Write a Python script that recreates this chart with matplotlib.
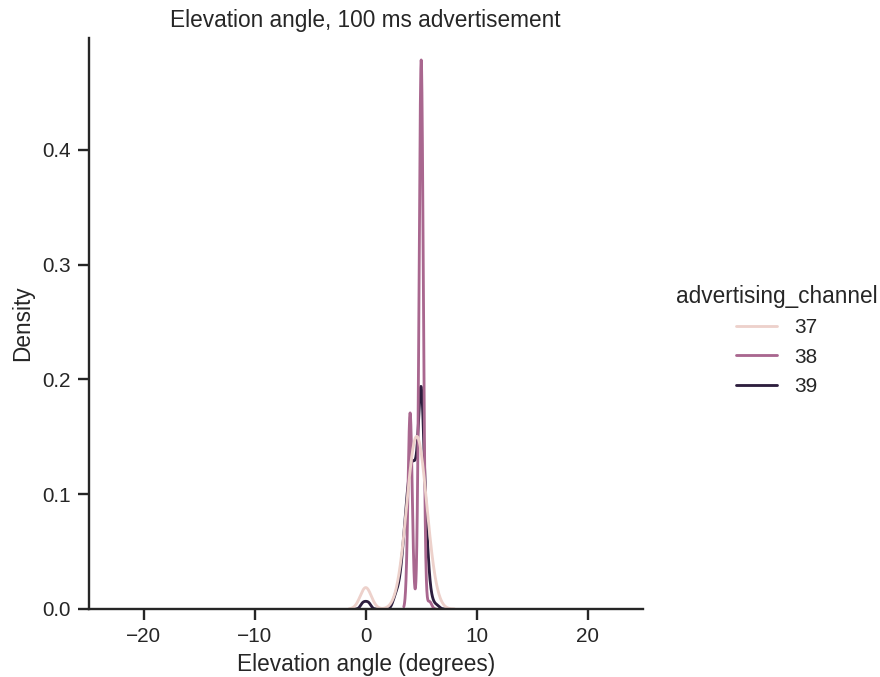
import numpy as np
import matplotlib
matplotlib.use("Agg")
import matplotlib.pyplot as plt
from matplotlib.lines import Line2D
import seaborn as sns

# ---- data: elevation-angle samples (degrees) and counts per advertising channel ----
channels = [37, 38, 39]

angles_37 = [0.0, 2.5, 3.0, 3.5, 4.0, 4.5, 5.0, 5.5, 6.0, 6.5]
counts_37 = [23, 2, 9, 30, 65, 88, 77, 43, 16, 4]

angles_38 = [4.0, 5.0, 5.75]
counts_38 = [80, 224, 3]

angles_39 = [-0.3, 0.0, 0.3, 2.5, 2.75, 3.0, 3.25, 3.5, 3.75, 4.0, 4.25, 4.5,
             4.75, 5.0, 5.25, 5.5, 5.75, 6.0, 6.25, 6.5]
counts_39 = [2, 2, 2, 2, 4, 5, 10, 18, 26, 31, 33, 30,
             34, 64, 30, 17, 5, 2, 1, 1]

# KDE bandwidth (degrees) per channel
bandwidths = [0.5, 0.19, 0.2]

samples = {37: (angles_37, counts_37), 38: (angles_38, counts_38), 39: (angles_39, counts_39)}

sns.set_theme(style="ticks", context="notebook")
plt.rcParams["font.family"] = ["Liberation Sans", "DejaVu Sans"]

DPI = 136
fig = plt.figure(figsize=(880 / DPI, 677 / DPI), dpi=DPI)
ax = fig.add_axes([88.5 / 880, 1 - 609 / 677, (643 - 88.5) / 880, (609 - 38) / 677])

cmap = sns.cubehelix_palette(as_cmap=True)
norm = plt.Normalize(min(channels), max(channels))

total = sum(sum(c) for _, c in samples.values())

lw = 1.5
handles = []
for ch, bw in reversed(list(zip(channels, bandwidths))):
    v, c = samples[ch]
    v = np.asarray(v, float)
    c = np.asarray(c, float)
    x = np.linspace(v.min() - 3 * bw, v.max() + 3 * bw, 400)
    k = np.exp(-0.5 * ((x[:, None] - v[None, :]) / bw) ** 2) / (bw * np.sqrt(2 * np.pi))
    dens = (k * c[None, :]).sum(axis=1) / total
    ax.plot(x, dens, color=cmap(norm(ch)), lw=lw)

for ch in channels:
    handles.append(Line2D([], [], color=cmap(norm(ch)), lw=lw))

ax.set_xlim(-25, 25)
ax.set_ylim(0, 0.4976)
ax.set_xticks([-20, -10, 0, 10, 20])
ax.set_yticks([0.0, 0.1, 0.2, 0.3, 0.4])
ax.set_xlabel("Elevation angle (degrees)")
ax.set_ylabel("Density")
ax.set_title("Elevation angle, 100 ms advertisement")
sns.despine(ax=ax)

fig.legend(handles, [str(c) for c in channels], title="advertising_channel",
           frameon=False, loc="center left", bbox_to_anchor=(657 / 880, 0.497))

fig.savefig("out.png", dpi=DPI)
